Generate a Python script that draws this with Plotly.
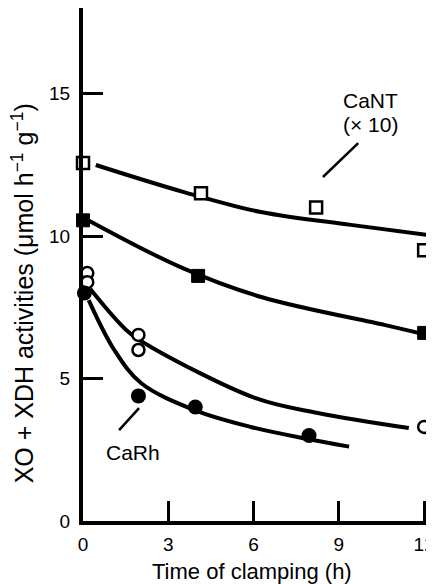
import plotly.graph_objects as go

# --- data ---
cant_x = [0.0, 4.15, 8.2, 12.0]
cant_y = [12.56, 11.5, 11.0, 9.5]
sq_fill_x = [0.0, 4.05, 12.0]
sq_fill_y = [10.55, 8.6, 6.6]
circ_open_x = [0.15, 0.15, 1.95, 1.95, 12.0]
circ_open_y = [8.7, 8.38, 6.53, 6.0, 3.3]
circ_fill_x = [0.05, 1.95, 3.95, 7.95]
circ_fill_y = [8.0, 4.39, 4.0, 3.0]

# fitted curves
fit_cant_x = [0.45, 3.55, 6.26, 9.42, 12.1]
fit_cant_y = [12.49, 11.54, 10.84, 10.39, 10.04]
fit_sq_x = [0.1, 3.45, 6.3, 10.6, 11.8]
fit_sq_y = [10.6, 8.9, 7.85, 6.88, 6.6]
fit_open_x = [0.25, 1.6, 2.4, 6.1, 8.26, 11.46]
fit_open_y = [8.15, 6.63, 6.1, 4.3, 3.79, 3.26]
fit_fill_x = [0.2, 1.1, 2.04, 3.9, 5.9, 7.95, 9.36]
fit_fill_y = [7.75, 6.0, 4.84, 3.9, 3.3, 2.87, 2.61]

x_ticks = [0, 3, 6, 9, 12]
y_ticks = [0, 5, 10, 15]

FONT = "Liberation Sans, Arial, Helvetica, sans-serif"

fig = go.Figure()
for fx, fy in [(fit_cant_x, fit_cant_y), (fit_sq_x, fit_sq_y),
               (fit_open_x, fit_open_y), (fit_fill_x, fit_fill_y)]:
    fig.add_trace(go.Scatter(x=fx, y=fy, mode="lines",
                             line=dict(color="black", width=4, shape="spline"),
                             hoverinfo="skip", cliponaxis=False))

fig.add_trace(go.Scatter(x=cant_x, y=cant_y, mode="markers", cliponaxis=False,
                         marker=dict(symbol="square", size=12, color="white",
                                     line=dict(color="black", width=2.5))))
fig.add_trace(go.Scatter(x=sq_fill_x, y=sq_fill_y, mode="markers", cliponaxis=False,
                         marker=dict(symbol="square", size=13, color="black",
                                     line=dict(color="black", width=1))))
fig.add_trace(go.Scatter(x=circ_open_x, y=circ_open_y, mode="markers", cliponaxis=False,
                         marker=dict(symbol="circle", size=12, color="white",
                                     line=dict(color="black", width=2.5))))
fig.add_trace(go.Scatter(x=circ_fill_x, y=circ_fill_y, mode="markers", cliponaxis=False,
                         marker=dict(symbol="circle", size=15, color="black",
                                     line=dict(color="black", width=0))))

# label leader lines
fig.add_shape(type="line", x0=9.68, y0=13.26, x1=8.44, y1=12.07,
              line=dict(color="black", width=2.5))
fig.add_shape(type="line", x0=1.97, y0=3.96, x1=1.27, y1=3.19,
              line=dict(color="black", width=2.5))

fig.add_annotation(x=10.1, y=14.77, text="CaNT", showarrow=False,
                   xanchor="center", yanchor="middle",
                   font=dict(size=21, color="black", family=FONT))
fig.add_annotation(x=10.1, y=13.9, text="(× 10)", showarrow=False,
                   xanchor="center", yanchor="middle",
                   font=dict(size=21, color="black", family=FONT))
fig.add_annotation(x=1.76, y=2.42, text="CaRh", showarrow=False,
                   xanchor="center", yanchor="middle",
                   font=dict(size=21, color="black", family=FONT))

fig.add_annotation(xref="paper", yref="paper", x=-0.174, y=0.444,
                   xanchor="center", yanchor="middle",
                   text="XO + XDH activities (μmol h<sup>−1</sup> g<sup>−1</sup>)",
                   textangle=-90, showarrow=False,
                   font=dict(size=25, color="black", family=FONT))
fig.add_annotation(xref="paper", yref="paper", x=0.491, y=-0.0994,
                   xanchor="center", yanchor="middle",
                   text="Time of clamping (h)", showarrow=False,
                   font=dict(size=22, color="black", family=FONT))

fig.update_layout(
    width=426, height=576,
    margin=dict(l=75, r=7, t=0, b=63),
    paper_bgcolor="white", plot_bgcolor="white",
    showlegend=False,
    font=dict(family=FONT, size=18, color="black"),
    xaxis=dict(range=[0, 12.1], tickvals=x_ticks, ticks="inside", ticklen=20,
               tickwidth=3, tickcolor="black", showline=True, linewidth=4,
               linecolor="black", showgrid=False, zeroline=False,
               ticklabelstandoff=3, automargin=False, ticklabeloverflow="allow",
               tickfont=dict(size=19)),
    yaxis=dict(range=[0, 18], tickvals=y_ticks, ticks="inside", ticklen=20,
               tickwidth=3, tickcolor="black", showline=True, linewidth=4,
               linecolor="black", showgrid=False, zeroline=False,
               ticklabelstandoff=5, automargin=False, ticklabeloverflow="allow",
               tickfont=dict(size=19)),
)

fig.write_html("out.html")
